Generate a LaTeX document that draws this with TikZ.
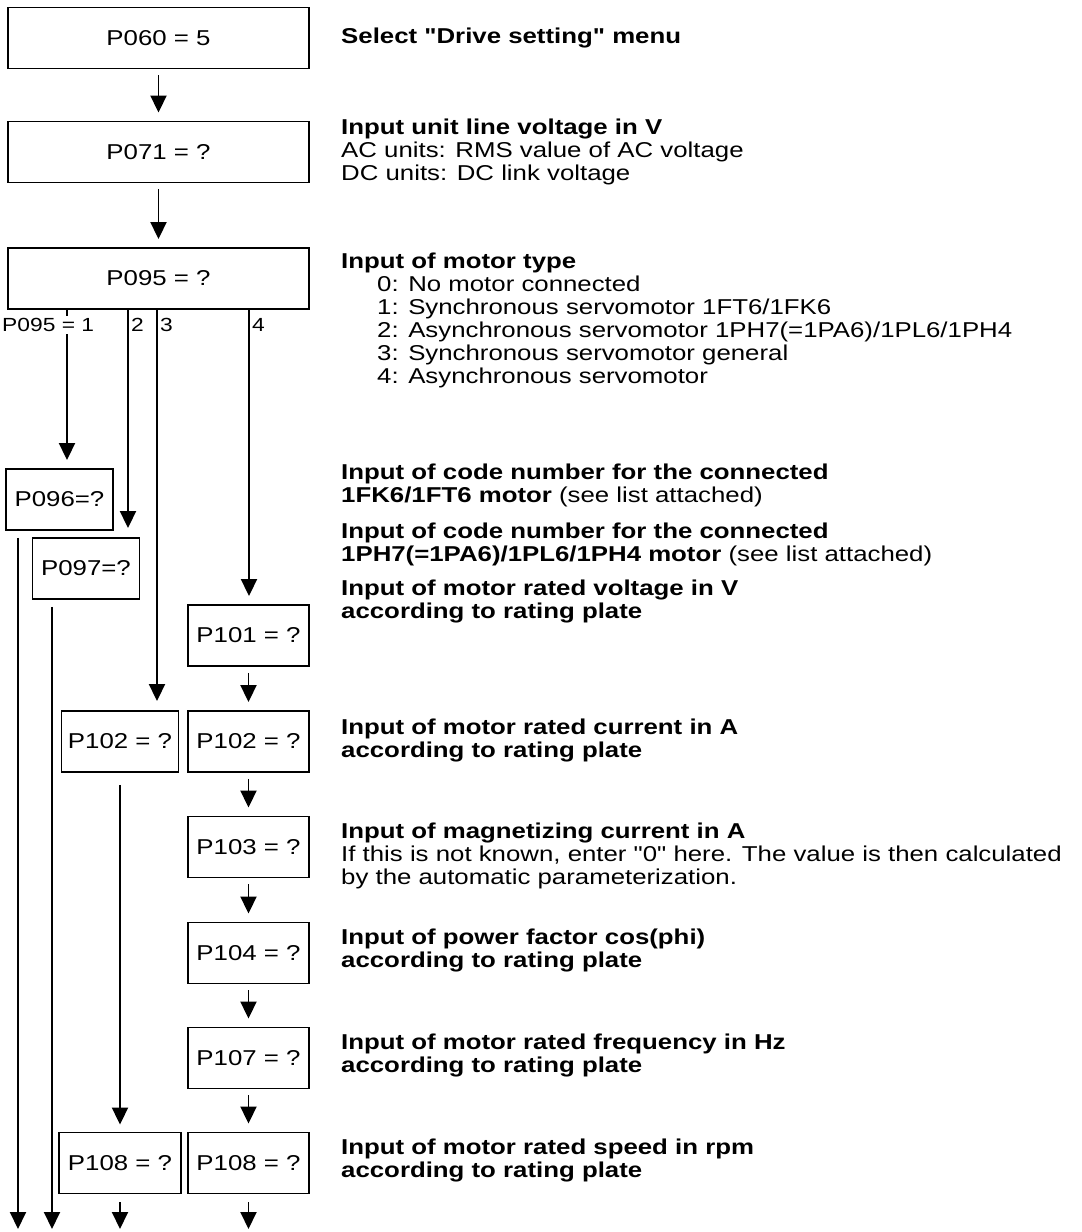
\documentclass[tikz,border=0pt]{standalone}
\usepackage{fontspec}
\setmainfont[FakeStretch=1.2,Ligatures=TeXOff]{Liberation Sans}
\usetikzlibrary{arrows.meta,positioning,calc}

\begin{document}
\begin{tikzpicture}[
   x=1pt,y=-1pt,
   every node/.style={font=\fontsize{21.5}{23}\selectfont},
   par/.style={draw,line width=1.9pt,rectangle,inner sep=0pt,minimum height=61pt},
   wide/.style={par,minimum width=301pt},
   narrow/.style={par,minimum width=121pt},
   small/.style={par,minimum width=107pt},
   note/.style={anchor=west,align=left,inner sep=0pt},
   branch/.style={font=\fontsize{19}{20}\selectfont,inner sep=2pt,anchor=west},
   arr/.style={-{Triangle[length=17pt,width=16pt]},line width=1.9pt},
   gap/.style={arr,shorten <=6pt,shorten >=8pt}
]
\useasboundingbox (0,0) rectangle (1082,1232);

% Menu, line voltage, motor type
\node[wide] (P060) at (158.5,38) {P060 = 5};
\node[wide] (P071) at (158.5,152) {P071 = ?};
\node[wide] (P095) at (158.5,278.5) {P095 = ?};

\draw[gap] (P060) -- (P071);
\draw[gap] (P071) -- (P095);

% Code numbers and motor data
\node[small] (P096) at (59.5,499.5) {P096=?};
\node[small] (P097) at (86,568.5) {P097=?};
\node[narrow] (P101) at (248.5,635.5) {P101 = ?};
\node[par,minimum width=117pt] (P102a) at (120,741.5) {P102 = ?};
\node[narrow] (P102b) at (248.5,741.5) {P102 = ?};
\node[narrow] (P103) at (248.5,847) {P103 = ?};
\node[narrow] (P104) at (248.5,953) {P104 = ?};
\node[narrow] (P107) at (248.5,1058) {P107 = ?};
\node[par,minimum width=122pt] (P108a) at (120,1163) {P108 = ?};
\node[narrow] (P108b) at (248.5,1163) {P108 = ?};

% Branches below P095
\coordinate (b1) at (67,309);
\coordinate (b2) at (128,309);
\coordinate (b3) at (157,309);
\coordinate (b4) at (249,309);

\draw[arr,shorten >=8pt] (b1) -- (b1 |- P096.north);
\draw[arr,shorten >=9pt] (b2) -- (b2 |- P097.north);
\draw[arr,shorten >=9pt] (b3) -- (b3 |- P102a.north);
\draw[arr,shorten >=8pt] (b4) -- (b4 |- P101.north);

\node[branch,fill=white] (lab1) at (0,325) {P095 = 1};
\node[branch] (lab2) at (129,325) {2};
\node[branch] (lab3) at (158,325) {3};
\node[branch] (lab4) at (250,325) {4};

% Chain of the right column
\draw[gap] (P101) -- (P102b);
\draw[gap] (P102b) -- (P103);
\draw[gap] (P103) -- (P104);
\draw[gap] (P104) -- (P107);
\draw[gap] (P107) -- (P108b);
\draw[arr,shorten <=12pt,shorten >=7pt] (P102a) -- (P108a);

% Exits at the bottom
\coordinate (f1) at (18,1229);
\coordinate (f2) at (52,1229);
\coordinate (f3) at (120,1229);
\coordinate (f4) at (248.5,1229);

\draw[arr,shorten <=7pt] (f1 |- P096.south) -- (f1);
\draw[arr,shorten <=7pt] (f2 |- P097.south) -- (f2);
\draw[arr,shorten <=8pt] (P108a) -- (f3);
\draw[arr,shorten <=8pt] (P108b) -- (f4);

% Descriptions
\node[note] (d060) at (341,38) {\textbf{Select "Drive setting" menu}};
\node[note] (d071) at (341,152) {\textbf{Input unit line voltage in V}\\
   AC units: RMS value of AC voltage\\DC units: DC link voltage};
\node[note] (d095) at (341,320.5) {\textbf{Input of motor type}\\
   \hspace*{36pt}0: No motor connected\\
   \hspace*{36pt}1: Synchronous servomotor 1FT6/1FK6\\
   \hspace*{36pt}2: Asynchronous servomotor 1PH7(=1PA6)/1PL6/1PH4\\
   \hspace*{36pt}3: Synchronous servomotor general\\
   \hspace*{36pt}4: Asynchronous servomotor};
\node[note] (d096) at (341,485.5) {\textbf{Input of code number for the connected}\\
   \textbf{1FK6/1FT6 motor} (see list attached)};
\node[note] (d097) at (341,544.5) {\textbf{Input of code number for the connected}\\
   \textbf{1PH7(=1PA6)/1PL6/1PH4 motor} (see list attached)};
\node[note] (d101) at (341,601.5) {\textbf{Input of motor rated voltage in V}\\
   \textbf{according to rating plate}};
\node[note] (d102) at (341,740.5) {\textbf{Input of motor rated current in A}\\
   \textbf{according to rating plate}};
\node[note] (d103) at (341,856) {\textbf{Input of magnetizing current in A}\\
   If this is not known, enter "0" here. The value is then calculated\\
   by the automatic parameterization.};
\node[note] (d104) at (341,950) {\textbf{Input of power factor cos(phi)}\\
   \textbf{according to rating plate}};
\node[note] (d107) at (341,1055) {\textbf{Input of motor rated frequency in Hz}\\
   \textbf{according to rating plate}};
\node[note] (d108) at (341,1160) {\textbf{Input of motor rated speed in rpm}\\
   \textbf{according to rating plate}};

\end{tikzpicture}
\end{document}
